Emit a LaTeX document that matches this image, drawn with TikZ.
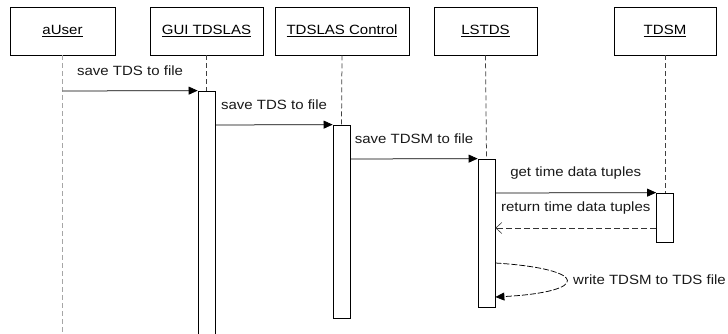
\documentclass[tikz,border=0pt]{standalone}
\usepackage{fontspec}
\setmainfont{Liberation Sans}[FakeStretch=1.12]
\usetikzlibrary{arrows.meta}
\begin{document}
\begin{tikzpicture}[x=1pt,y=-1pt,
  obj/.style={draw=black, line width=0.75pt, minimum height=48pt, inner sep=0pt,
    font=\fontsize{13.4}{15}\selectfont},
  actbar/.style={draw=black, fill=white, line width=0.75pt, minimum width=17pt, inner sep=0pt},
  life/.style={draw=black!75, line width=0.75pt, dash pattern=on 5pt off 3pt},
  lifelight/.style={draw=black!35, line width=0.75pt, dash pattern=on 5pt off 3pt},
  msg/.style={draw=black, line width=0.75pt, -{Triangle[length=9pt,width=8pt]}},
  ret/.style={draw=black!80, line width=0.75pt, dash pattern=on 6pt off 3pt, -{Straight Barb[length=6pt,width=11pt,line width=0.6pt]}},
  selfmsg/.style={draw=black, line width=0.75pt, dash pattern=on 6pt off 2pt, -{Triangle[length=9pt,width=8pt]}},
  lab/.style={midway, yshift=20pt, inner sep=0pt, font=\fontsize{13.4}{15}\selectfont, text=black!90},
  freelab/.style={inner sep=0pt, font=\fontsize{13.4}{15}\selectfont, text=black!90}
]
\useasboundingbox (0,0) rectangle (728,334);

% object boxes
\node[obj, minimum width=105pt] (user) at (62.5,31) {\underline{aUser}};
\node[obj, minimum width=113pt] (gui) at (206.5,31) {\underline{GUI TDSLAS}};
\node[obj, minimum width=134pt] (ctrl) at (342,31) {\underline{TDSLAS Control}};
\node[obj, minimum width=103pt] (lstds) at (485.5,31) {\underline{LSTDS}};
\node[obj, minimum width=102pt] (tdsm) at (665,31) {\underline{TDSM}};

% activation bars
\node[actbar, minimum height=249pt] (guibar) at (206.5,215.5) {};
\node[actbar, minimum height=193pt] (ctrlbar) at (341.5,221.5) {};
\node[actbar, minimum height=148pt] (lsbar) at (486.5,233) {};
\node[actbar, minimum height=49pt] (tdsmbar) at (665,217.5) {};

% lifelines
\coordinate (userend) at (62.5,334);
\draw[lifelight] (user.south) -- (userend);
\draw[life] (gui.south) -- (guibar.north);
\draw[life] (ctrl.south) -- (ctrlbar.north);
\draw[life] (lstds.south) -- (lsbar.north);
\draw[life] (tdsm.south) -- (tdsmbar.north);

% messages
\coordinate (m1s) at (62.5,91);
\draw[msg] (m1s) -- node[lab] {save TDS to file} (guibar.north west);
\coordinate (m2s) at (guibar.east |- 0,125);
\draw[msg] (m2s) -- node[lab] {save TDS to file} (ctrlbar.north west);
\coordinate (m3s) at (ctrlbar.east |- 0,159);
\draw[msg] (m3s) -- node[lab] {save TDSM to file} (lsbar.north west);
\coordinate (m4s) at (lsbar.east |- 0,193);
\draw[msg] (m4s) -- node[lab] {get time data tuples} (tdsmbar.north west);
\coordinate (m5s) at (tdsmbar.west |- 0,228);
\coordinate (m5e) at (lsbar.east |- 0,228);
\draw[ret] (m5s) -- node[lab] {return time data tuples} (m5e);

% self message
\coordinate (s1) at (lsbar.east |- 0,263);
\coordinate (s2) at (lsbar.east |- 0,297);
\draw[selfmsg] (s1) .. controls (590,269) and (590,292) .. (s2);
\node[freelab, anchor=west] (selflab) at (573,280) {write TDSM to TDS file};
\end{tikzpicture}
\end{document}
